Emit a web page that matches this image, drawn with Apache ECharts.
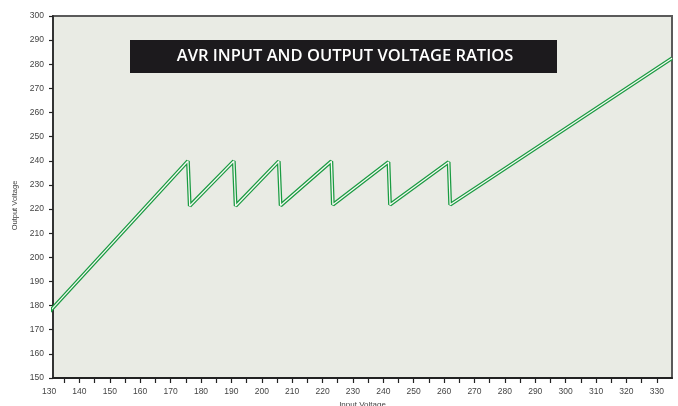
<!DOCTYPE html>
<html><head><meta charset="utf-8">
<script src="https://cdn.jsdelivr.net/npm/echarts@6/dist/echarts.min.js"></script>
<style>html,body{margin:0;padding:0;background:#fff}#c{width:678px;height:406px}</style>
</head><body><div id="c"></div><script>
const chartTitle = 'AVR INPUT AND OUTPUT VOLTAGE RATIOS';
const inputVoltage  = [130, 175.7, 176.3, 190.8, 191.4, 205.6, 206.2, 222.9, 223.4, 241.7, 242.2, 261.5, 262.0, 335];
const outputVoltage = [177.3, 239.9, 221.3, 239.9, 221.3, 239.8, 221.5, 239.8, 221.8, 239.5, 221.8, 239.5, 221.8, 282.5];
const xTickValues = [135,140,145,150,155,160,165,170,175,180,185,190,195,200,205,210,215,220,225,230,235,240,245,250,255,260,265,270,275,280,285,290,295,300,305,310,315,320,325,330];
const xLabelValues = [140,150,160,170,180,190,200,210,220,230,240,250,260,270,280,290,300,310,320,330];
const xFirstLabel = 130;
const yTicks = [150,160,170,180,190,200,210,220,230,240,250,260,270,280,290,300];

const pts = inputVoltage.map((x, i) => [x, outputVoltage[i]]);
const chart = echarts.init(document.getElementById('c'), null, {renderer: 'canvas'});
const labelFont = {color: '#444', fontSize: 8.5, fontFamily: 'Liberation Sans, Arial, sans-serif'};
chart.setOption({
  animation: false,
  backgroundColor: '#ffffff',
  grid: {left: 53, right: 6, top: 16, bottom: 28, containLabel: false, outerBoundsMode: 'none', show: true, backgroundColor: '#e9ebe4', borderColor: '#5a5a5a', borderWidth: 2},
  xAxis: {
    type: 'value', min: 131.3, max: 335,
    name: 'Input Voltage', nameLocation: 'middle', nameGap: 21,
    nameTextStyle: {color: '#444', fontSize: 8, fontFamily: 'Liberation Sans, Arial, sans-serif'},
    axisLine: {show: true, lineStyle: {color: '#222', width: 2}},
    axisTick: {show: true, customValues: xTickValues, length: 5, lineStyle: {color: '#222', width: 1.2}},
    axisLabel: Object.assign({customValues: xLabelValues, margin: 9}, labelFont),
    splitLine: {show: false}
  },
  yAxis: {
    type: 'value', min: yTicks[0], max: yTicks[yTicks.length - 1], interval: 10,
    name: 'Output Voltage', nameLocation: 'middle', nameGap: 34,
    nameTextStyle: {color: '#444', fontSize: 7.5, fontFamily: 'Liberation Sans, Arial, sans-serif', padding: [0, 0, 0, -17]},
    axisLine: {show: true, lineStyle: {color: '#333', width: 2}},
    axisTick: {show: true, length: 4, lineStyle: {color: '#222', width: 1.2}},
    axisLabel: Object.assign({margin: 9}, labelFont),
    splitLine: {show: false}
  },
  series: [
    {type: 'line', data: pts, symbol: 'none', lineStyle: {color: '#1a9b42', width: 3.8}, z: 2},
    {type: 'line', data: pts, symbol: 'none', lineStyle: {color: '#f6f8f2', width: 1.3}, z: 3}
  ]
});
const px130 = chart.convertToPixel({xAxisIndex: 0}, xFirstLabel);
const axisY = chart.convertToPixel({yAxisIndex: 0}, 150);
chart.setOption({
  graphic: [
    {type: 'rect', left: 130, top: 40, shape: {width: 427, height: 33}, style: {fill: '#1c1a1d'}, z: 10},
    {type: 'text', x: 345, y: 56.5, style: {text: chartTitle, fill: '#ffffff', font: '600 16.5px "Open Sans", sans-serif', align: 'center', verticalAlign: 'middle'}, z: 11},
    {type: 'text', x: px130, y: axisY + 14, style: {text: String(xFirstLabel), fill: '#444', font: '8.5px "Liberation Sans", Arial, sans-serif', align: 'center', verticalAlign: 'middle'}, z: 11}
  ]
});
</script></body></html>
